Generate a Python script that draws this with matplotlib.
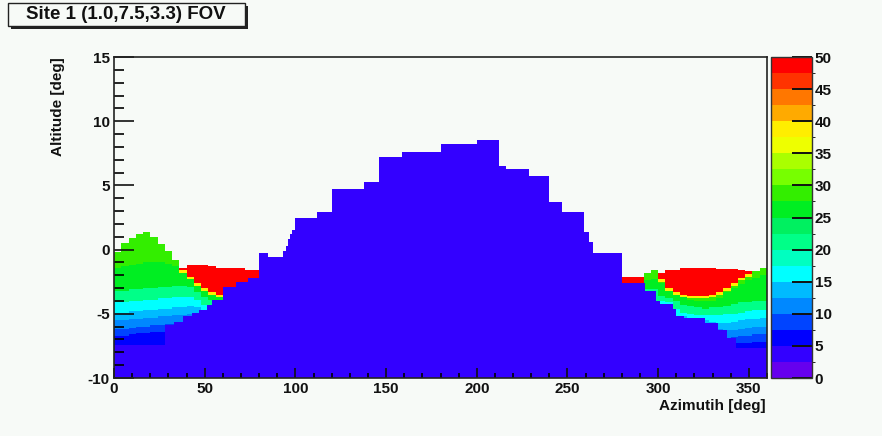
import numpy as np
import matplotlib
matplotlib.use("Agg")
import matplotlib.pyplot as plt
from matplotlib.colors import ListedColormap, BoundaryNorm
from matplotlib.patches import Rectangle

nan = np.nan

# MARK: - Data
# colour palette, 20 bands from 0 to 50
palette = ["#6600ee", "#3300ff", "#0000ff", "#0044ff", "#0088ff",
           "#00bbff", "#00ffff", "#00ffc0", "#00ff88", "#00f060",
           "#00ee22", "#33ee00", "#77ff00", "#aaff00", "#eeff00",
           "#ffee00", "#ffaa00", "#ff7700", "#ff3300", "#ff0000"]
levels = np.arange(0, 50.01, 2.5)
cbar_ticks = np.arange(0, 51, 5)

# terrain (blue) profile: azimuth step edges and top altitude
ground_edges = [0, 28, 33, 38, 43, 47, 51, 54, 60, 67, 74, 80, 85, 93, 95, 96, 97,
                98, 100, 112, 120, 138, 146, 159, 180, 200, 212, 216, 229, 240,
                247, 259, 262, 264, 280, 293, 299, 301, 308, 310, 314, 326, 333,
                338, 343, 360]
ground_top = [-7.35, -5.9, -5.6, -5.2, -4.9, -4.7, -4.3, -3.9, -2.9, -2.5, -2.2,
              -0.25, -0.55, -0.1, 0.3, 0.8, 1.2, 1.5, 2.5, 2.9, 4.7, 5.3, 7.2,
              7.6, 8.25, 8.5, 6.5, 6.3, 5.7, 3.7, 2.9, 1.4, 0.6, -0.25, -2.55,
              -3.15, -4.0, -4.2, -4.6, -5.2, -5.3, -5.7, -6.3, -6.9, -7.65]
ground_value = 4

# values of the lit bands, bottom to top
band_values = [6, 9, 11, 14, 16, 21, 26]
upper_value = 29
edge_value = 39
red_value = 49
column_width = 4

# left lit region, columns of 4 deg from az 0 to 80
left_start = 0
left_top = [-0.2, 0.5, 0.9, 1.25, 1.45, 1.05, 0.45, -0.1, -0.75, -1.4,
            -1.15, -1.15, -1.15, -1.25, -1.35, -1.37, -1.37, -1.45, -1.55, -1.55]
left_red = [nan, nan, nan, nan, nan, nan, nan, nan, nan, -1.6,
            -2.1, -2.6, -3.0, -3.3, -3.5, -3.0, -3.0, -3.0, -3.0, -3.0]
left_t6 = [-6.7, -6.65, -6.6, -6.5, -6.45, -6.4, -6.35, nan, nan, nan,
           nan, nan, nan, nan, nan, nan, nan, nan, nan, nan]
left_t9 = [-6.2, -6.15, -6.1, -6.0, -5.95, -5.9, -5.85, -5.8, -5.75, nan,
           nan, nan, nan, nan, nan, nan, nan, nan, nan, nan]
left_t11 = [-5.5, -5.45, -5.4, -5.35, -5.3, -5.25, -5.2, -5.15, -5.1, -5.05,
            -5.0, nan, nan, nan, nan, nan, nan, nan, nan, nan]
left_t14 = [-4.9, -4.85, -4.8, -4.75, -4.7, -4.65, -4.6, -4.55, -4.5, -4.45,
            -4.4, -4.5, -4.65, nan, nan, nan, nan, nan, nan, nan]
left_t16 = [-4.1, -4.05, -4.0, -3.95, -3.9, -3.85, -3.8, -3.75, -3.7, -3.65,
            -3.7, -3.9, -4.3, nan, nan, nan, nan, nan, nan, nan]
left_t21 = [-3.2, -3.15, -3.1, -3.05, -3.0, -2.95, -2.9, -2.85, -2.8, -2.8,
            -2.9, -3.3, -3.7, -3.9, -4.0, nan, nan, nan, nan, nan]
left_t26 = [-1.4, -1.3, -1.2, -1.1, -1.0, -1.0, -1.0, -1.1, -1.3, -1.8,
            -2.3, -2.8, -3.2, -3.5, -3.7, nan, nan, nan, nan, nan]

# right lit region, columns of 4 deg from az 280 to 360
right_start = 280
right_top = [-2.05, -2.05, -2.05, -1.8, -1.55, -1.75, -1.6, -1.55, -1.45, -1.45,
             -1.45, -1.45, -1.45, -1.5, -1.5, -1.5, -1.55, -1.7, -1.65, -1.45]
right_red = [-2.6, -2.6, -2.6, nan, nan, -2.3, -3.0, -3.3, -3.5, -3.55,
             -3.55, -3.55, -3.45, -3.25, -2.95, -2.6, -2.2, -1.85, nan, nan]
right_t6 = [nan, nan, nan, nan, nan, nan, nan, nan, nan, nan,
            nan, nan, nan, nan, nan, -7.3, -7.3, -7.25, -7.2, -7.2]
right_t9 = [nan, nan, nan, nan, nan, nan, nan, nan, nan, nan,
            nan, nan, nan, -6.8, -6.9, -6.8, -6.7, -6.65, -6.6, -6.6]
right_t11 = [nan, nan, nan, nan, nan, nan, nan, nan, nan, nan,
             nan, nan, -6.1, -6.2, -6.3, -6.3, -6.2, -6.1, -6.0, -5.97]
right_t14 = [nan, nan, nan, nan, nan, nan, nan, nan, -5.2, -5.3,
             -5.35, -5.5, -5.6, -5.7, -5.7, -5.6, -5.5, -5.4, -5.35, -5.3]
right_t16 = [nan, nan, nan, nan, nan, -4.0, -4.1, -4.6, -4.9, -5.0,
             -5.05, -5.1, -5.1, -5.05, -5.0, -4.95, -4.85, -4.75, -4.7, -4.67]
right_t21 = [nan, nan, nan, -3.1, -3.1, -3.6, -3.75, -4.0, -4.3, -4.4,
             -4.5, -4.55, -4.5, -4.45, -4.35, -4.2, -4.1, -4.05, -4.0, -4.0]
right_t26 = [nan, nan, nan, -2.4, -2.3, -2.6, -3.2, -3.5, -3.7, -3.85,
             -3.95, -4.0, -3.95, -3.8, -3.3, -3.0, -2.7, -2.4, -2.2, -2.0]

# MARK: - Histogram grid
az_edges = np.arange(0, 361, 1.0)
alt_edges = np.linspace(-10, 15, 251)
az_c = 0.5 * (az_edges[:-1] + az_edges[1:])
alt_c = 0.5 * (alt_edges[:-1] + alt_edges[1:])
Z = np.full((alt_c.size, az_c.size), np.nan)


def fill_side(start, tops, reds, band_tops):
    for j in range(len(tops)):
        cols = (az_c >= start + j * column_width) & (az_c < start + (j + 1) * column_width)
        lower = -10.0
        for value, t in zip(band_values, band_tops):
            if np.isnan(t[j]):
                continue
            rows = (alt_c >= lower) & (alt_c < t[j])
            Z[np.ix_(rows, cols)] = value
            lower = t[j]
        rows = (alt_c >= lower) & (alt_c < tops[j])
        Z[np.ix_(rows, cols)] = upper_value
        if not np.isnan(reds[j]):
            rows = (alt_c >= reds[j] - 0.2) & (alt_c < reds[j])
            Z[np.ix_(rows, cols)] = edge_value
            rows = (alt_c >= reds[j]) & (alt_c < tops[j])
            Z[np.ix_(rows, cols)] = red_value


fill_side(left_start, left_top, left_red,
          [left_t6, left_t9, left_t11, left_t14, left_t16, left_t21, left_t26])
fill_side(right_start, right_top, right_red,
          [right_t6, right_t9, right_t11, right_t14, right_t16, right_t21, right_t26])

idx = np.clip(np.searchsorted(ground_edges, az_c, side="right") - 1, 0, len(ground_top) - 1)
for i, k in enumerate(idx):
    Z[alt_c < ground_top[k], i] = ground_value

# MARK: - Figure
plt.rcParams["font.family"] = ["Liberation Sans", "DejaVu Sans"]
plt.rcParams["font.weight"] = "bold"
plt.rcParams["axes.unicode_minus"] = False
bg = "#f7faf7"
W, H = 882, 436
fig = plt.figure(figsize=(W / 100, H / 100), dpi=100, facecolor=bg)

ax = fig.add_axes([114 / W, 1 - 378 / H, 653 / W, 321 / H], facecolor=bg)
cmap = ListedColormap(palette)
norm = BoundaryNorm(levels, cmap.N)
mesh = ax.pcolormesh(az_edges, alt_edges, np.ma.masked_invalid(Z), cmap=cmap, norm=norm,
                     shading="flat", linewidth=0, antialiased=False)

ax.set_xlim(0, 360)
ax.set_ylim(-10, 15)
ax.set_xticks(np.arange(0, 351, 50))
ax.set_xticks(np.arange(0, 361, 10), minor=True)
ax.set_yticks(np.arange(-10, 16, 5))
ax.set_yticks(np.arange(-10, 16, 1), minor=True)
ax.tick_params(axis="x", which="major", direction="in", length=7.2, width=1.2,
               labelsize=11, pad=3, colors="#111111")
ax.tick_params(axis="x", which="minor", direction="in", length=3.6, width=1.2)
ax.tick_params(axis="y", which="major", direction="in", length=14.4, width=1.2,
               labelsize=11, pad=3, colors="#111111")
ax.tick_params(axis="y", which="minor", direction="in", length=7.2, width=1.2)
for s in ax.spines.values():
    s.set_linewidth(1.2)
    s.set_color("#222222")

cax = fig.add_axes([771 / W, 1 - 378 / H, 41 / W, 321 / H])
cb = fig.colorbar(mesh, cax=cax, ticks=cbar_ticks)
cb.outline.set_linewidth(1.0)
cb.outline.set_edgecolor("#333333")
cax.tick_params(direction="in", length=14.4, width=1.4, labelsize=11, pad=2,
                colors="#111111")

fig.text(58 / W, 1 - 57 / H, "Altitude [deg]", rotation=90, ha="center", va="top",
         fontsize=11, fontweight="bold", color="#111111")
fig.text(766 / W, 1 - 406 / H, "Azimutih [deg]", ha="right", va="center",
         fontsize=11, fontweight="bold", color="#111111")

# title box with drop shadow
fig.patches.append(Rectangle((11 / W, 1 - 29 / H), 237 / W, 23 / H,
                             transform=fig.transFigure, facecolor="#222222",
                             edgecolor="none"))
fig.patches.append(Rectangle((8 / W, 1 - 26 / H), 237 / W, 23 / H,
                             transform=fig.transFigure, facecolor=bg,
                             edgecolor="#222222", linewidth=1.0))
fig.text(126 / W, 1 - 14.5 / H, "Site 1 (1.0,7.5,3.3) FOV", ha="center", va="center",
         fontsize=13.5, fontweight="bold", color="#111111")

fig.savefig("out.png", dpi=100, facecolor=bg)
